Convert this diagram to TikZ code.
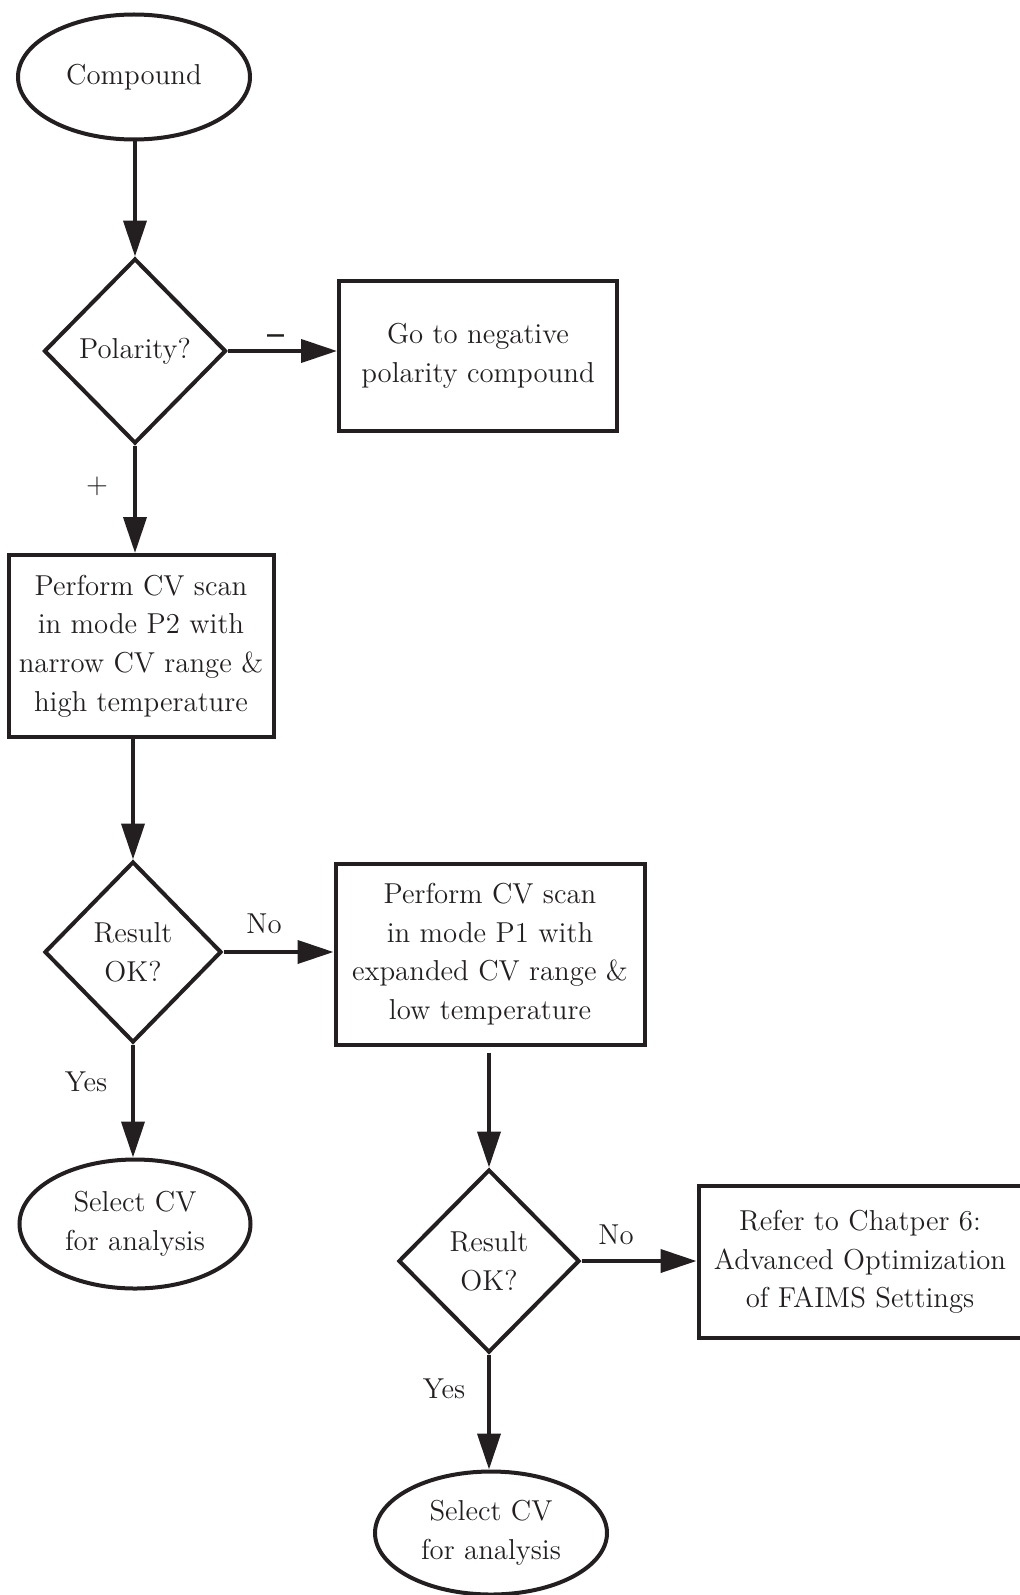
\documentclass[tikz,border=0pt]{standalone}
\usetikzlibrary{shapes.geometric,arrows.meta}
\definecolor{ink}{RGB}{35,31,32}
\begin{document}
\begin{tikzpicture}[x=0.5pt,y=-0.5pt,
  every node/.style={text=ink,font=\fontsize{14.4}{19.3}\selectfont,align=center,inner sep=0pt},
  shp/.style={draw=ink,line width=2pt},
  oval/.style={shp,ellipse},
  rbox/.style={shp,rectangle},
  dia/.style={shp,diamond},
  conn/.style={draw=ink,line width=2pt,-{Triangle[length=18pt,width=11.5pt]}},
  lab/.style={font=\fontsize{14.4}{17}\selectfont}]
\useasboundingbox (0,0) rectangle (1020,1595);
\node[oval,minimum width=116pt,minimum height=62.5pt] (comp) at (134,77) {Compound};
\node[dia,minimum width=91pt,minimum height=92.5pt] (pol) at (135,351) {Polarity?};
\node[rbox,minimum width=139pt,minimum height=75pt] (neg) at (478,356) {Go to negative\\polarity compound};
\node[rbox,minimum width=132.5pt,minimum height=91pt] (p2) at (141,646) {Perform CV scan\\in mode P2 with\\narrow CV range \&\\high temperature};
\node[dia,minimum width=88.5pt,minimum height=90.5pt] (r1) at (133,952) {Result\\OK?};
\node[rbox,minimum width=154.5pt,minimum height=90.5pt] (p1) at (490,954) {Perform CV scan\\in mode P1 with\\expanded CV range \&\\low temperature};
\node[oval,minimum width=115.5pt,minimum height=64.5pt] (s1) at (135,1224) {Select CV\\for analysis};
\node[dia,minimum width=90.5pt,minimum height=91.5pt] (r2) at (489,1261) {Result\\OK?};
\node[rbox,minimum width=161.5pt,minimum height=76pt] (ref) at (860,1262) {Refer to Chatper 6:\\Advanced Optimization\\of FAIMS Settings};
\node[oval,minimum width=116pt,minimum height=61.5pt] (s2) at (491,1533) {Select CV\\for analysis};
\draw[conn] (pol.north |- comp.south) -- (pol.north);
\draw[conn] (pol.east) -- (pol.east -| neg.west);
\draw[conn] (pol.south) -- (pol.south |- p2.north);
\draw[conn] (r1.north |- p2.south) -- (r1.north);
\draw[conn] (r1.east) -- (r1.east -| p1.west);
\draw[conn] (r1.south) -- (r1.south |- s1.north);
\draw[conn,shorten <=3pt] (r2.north |- p1.south) -- (r2.north);
\draw[conn] (r2.east) -- (r2.east -| ref.west);
\draw[conn] (r2.south) -- (r2.south |- s2.north);
\node[lab] (lminus) at (276,346) {\scalebox{1.05}[2.6]{\bfseries --}};
\node[lab] (lplus) at (97,486) {+};
\node[lab] (lno1) at (264,924) {No};
\node[lab] (lyes1) at (86,1082) {Yes};
\node[lab] (lno2) at (616,1235) {No};
\node[lab] (lyes2) at (444,1389) {Yes};
\end{tikzpicture}
\end{document}
